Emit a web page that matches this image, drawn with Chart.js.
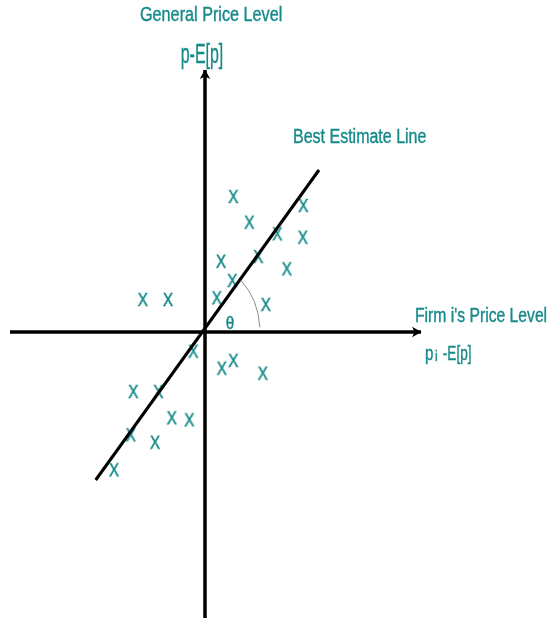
<!DOCTYPE html>
<html>
<head>
<meta charset="utf-8">
<title>Best Estimate Line</title>
<script src="https://cdn.jsdelivr.net/npm/chart.js@4"></script>
<style>
  html, body { margin: 0; padding: 0; background: #ffffff; }
  #wrap { width: 553px; height: 623px; }
</style>
</head>
<body>
<div id="wrap"><canvas id="diagramChart" width="553" height="623"></canvas></div>
<script>
// Beobachtungen (Firmenpreis-Abweichung x, allgemeine Preisabweichung y)
const obsX = [2.83, 4.43, 9.83, 7.23, 9.77, 5.33, 1.60, 8.17, 2.73, 1.17, 6.07, -6.23,
              -3.70, -1.17, 1.67, 2.83, 5.77, -7.17, -4.67, -3.33, -1.57, -7.43, -5.00, -9.10];
const obsY = [13.60, 11.03, 12.70, 9.87, 9.53, 7.60, 7.13, 6.37, 5.20, 3.47, 2.80, 3.30,
              3.30, -1.87, -3.57, -2.80, -4.07, -5.90, -5.90, -8.53, -8.73, -10.23, -10.97, -13.73];

// Achsen und Schätzgerade (Endpunkte)
const xAxisEnds = [-19.5, 21.6];
const yAxisEnds = [-28.6, 26.2];
const bestLineX = [-10.93, 11.40];
const bestLineY = [-14.80, 16.20];

// Beschriftungen
const titleY = ['General Price Level', 'p-E[p]'];
const titleX = ["Firm i's Price Level", 'p', 'i', ' -E[p]'];
const lineLabel = 'Best Estimate Line';
const angleLabel = 'θ';

const teal = '#168a89';
const fontFamily = '"Liberation Sans", Arial, sans-serif';

// "X"-Marker als Canvas für pointStyle
function makeMarker() {
  const c = document.createElement('canvas');
  c.width = 16; c.height = 20;
  const g = c.getContext('2d');
  g.fillStyle = teal;
  g.strokeStyle = teal;
  g.lineWidth = 0.5;
  g.translate(8, 0);
  g.scale(0.8, 1);
  g.font = '19px ' + fontFamily;
  g.textAlign = 'center';
  g.fillText('X', 0, 17);
  g.strokeText('X', 0, 17);
  return c;
}

// Pfeilspitze nach rechts, Spitze in der Mitte des Canvas
function makeArrow() {
  const c = document.createElement('canvas');
  c.width = 24; c.height = 24;
  const g = c.getContext('2d');
  g.fillStyle = '#000';
  g.beginPath();
  g.moveTo(12.5, 12);
  g.lineTo(3, 6.8);
  g.lineTo(5.5, 12);
  g.lineTo(3, 17.2);
  g.closePath();
  g.fill();
  return c;
}

const markerImg = makeMarker();
const arrowImg = makeArrow();

function drawText(ctx, text, x, y, size, sx) {
  ctx.save();
  ctx.translate(x, y);
  ctx.scale(sx, 1);
  ctx.font = size + 'px ' + fontFamily;
  ctx.fillText(text, 0, 0);
  ctx.lineWidth = 0.4;
  ctx.strokeText(text, 0, 0);
  ctx.restore();
}

// Winkelbogen und Texte
const labelPlugin = {
  id: 'diagramLabels',
  afterDatasetsDraw(chart) {
    const ctx = chart.ctx;
    const xs = chart.scales.x;
    const ys = chart.scales.y;
    const px = v => xs.getPixelForValue(v);
    const py = v => ys.getPixelForValue(v);

    // Bogen für θ
    const cx = px(0), cy = py(0);
    ctx.save();
    ctx.strokeStyle = '#8a8a8a';
    ctx.lineWidth = 1;
    ctx.beginPath();
    ctx.ellipse(cx, cy, px(5.5) - cx, cy - py(6.8), 0, -0.86, -0.07, false);
    ctx.stroke();
    ctx.restore();

    ctx.save();
    ctx.fillStyle = teal;
    ctx.strokeStyle = teal;
    ctx.textBaseline = 'alphabetic';
    drawText(ctx, titleY[0], px(-6.5), py(31.1), 20, 0.81);
    drawText(ctx, titleY[1], px(-2.43), py(26.9), 28, 0.57);
    drawText(ctx, lineLabel, px(8.8), py(18.9), 20, 0.80);
    drawText(ctx, titleX[0], px(21.0), py(1.05), 20, 0.785);
    drawText(ctx, titleX[1], px(22.0), py(-2.8), 20, 0.75);
    drawText(ctx, titleX[2], px(23.0), py(-2.85), 15, 0.8);
    drawText(ctx, titleX[3], px(23.4), py(-2.8), 20, 0.68);
    ctx.textAlign = 'center';
    drawText(ctx, angleLabel, px(2.5), py(0.35), 18, 0.85);
    ctx.restore();
  }
};

const toPoints = (xs, ys) => xs.map((x, i) => ({ x: x, y: ys[i] }));

const ctx = document.getElementById('diagramChart').getContext('2d');
new Chart(ctx, {
  type: 'scatter',
  data: {
    datasets: [
      {
        // horizontale Achse
        data: toPoints(xAxisEnds, [0, 0]),
        showLine: true,
        borderColor: '#000',
        borderWidth: 3.5,
        pointRadius: c => (c.dataIndex === 1 ? 1 : 0),
        pointStyle: arrowImg,
        rotation: 0
      },
      {
        // vertikale Achse
        data: toPoints([0, 0], yAxisEnds),
        showLine: true,
        borderColor: '#000',
        borderWidth: 3.5,
        pointRadius: c => (c.dataIndex === 1 ? 1 : 0),
        pointStyle: arrowImg,
        rotation: -90
      },
      {
        // Schätzgerade
        data: toPoints(bestLineX, bestLineY),
        showLine: true,
        borderColor: '#000',
        borderWidth: 3,
        pointRadius: 0
      },
      {
        // Beobachtungen
        data: toPoints(obsX, obsY),
        pointStyle: markerImg,
        pointRadius: 5
      }
    ]
  },
  options: {
    responsive: false,
    animation: false,
    layout: { padding: 0, autoPadding: false },
    scales: {
      x: { type: 'linear', min: -20.5, max: 34.8, display: false },
      y: { type: 'linear', min: -29.1, max: 33.2, display: false }
    },
    plugins: {
      legend: { display: false },
      tooltip: { enabled: false }
    }
  },
  plugins: [labelPlugin]
});
</script>
</body>
</html>
